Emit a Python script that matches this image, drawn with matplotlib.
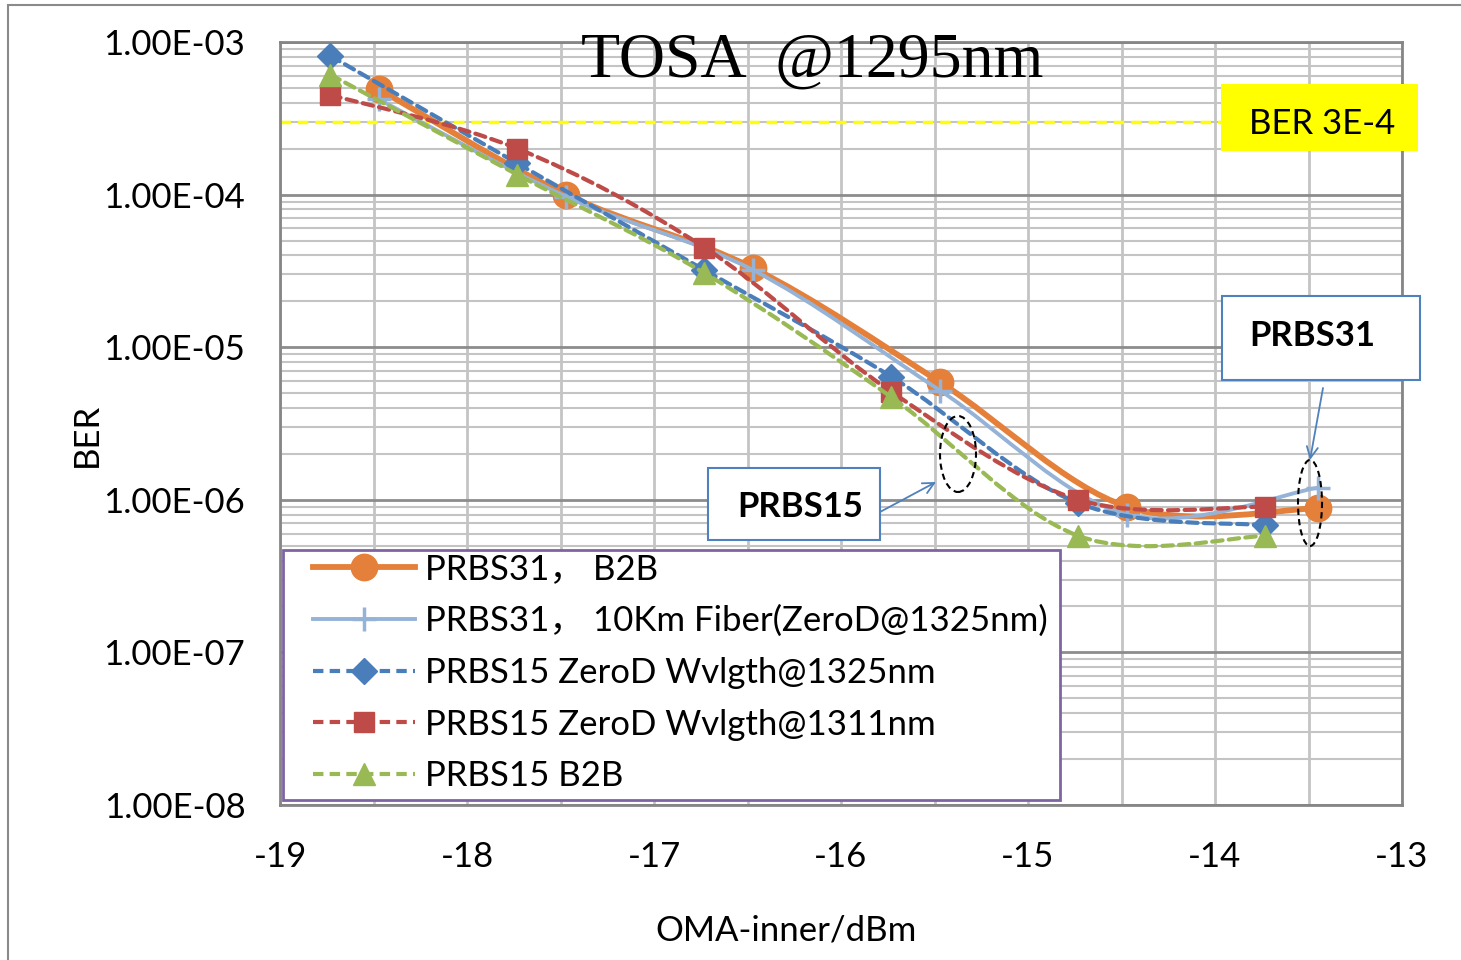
import matplotlib
matplotlib.use("Agg")
import matplotlib.pyplot as plt
import numpy as np
from matplotlib.path import Path
from matplotlib.patches import PathPatch, Rectangle, Ellipse
from matplotlib.lines import Line2D
from matplotlib.ticker import LogLocator, MultipleLocator, NullFormatter, FuncFormatter

plt.rcParams['axes.unicode_minus'] = False

# данные
x_prbs31 = [-18.47, -17.47, -16.47, -15.47, -14.47, -13.45]
ber_prbs31_b2b = [4.9e-4, 1.0e-4, 3.3e-5, 5.9e-6, 9.0e-7, 8.8e-7]
ber_prbs31_10km = [4.2e-4, 9.7e-5, 3.2e-5, 5.2e-6, 8.0e-7, 1.2e-6]

x_prbs15 = [-18.73, -17.73, -16.73, -15.73, -14.73, -13.73]
ber_prbs15_1325 = [8.1e-4, 1.6e-4, 3.2e-5, 6.4e-6, 9.5e-7, 6.8e-7]
ber_prbs15_1311 = [4.5e-4, 2.0e-4, 4.5e-5, 5.1e-6, 1.0e-6, 9.0e-7]
ber_prbs15_b2b = [6.1e-4, 1.35e-4, 3.06e-5, 4.7e-6, 5.8e-7, 5.8e-7]

ber_limit = 3e-4

labels = ["PRBS31， B2B",
          "PRBS31， 10Km Fiber(ZeroD@1325nm)",
          "PRBS15 ZeroD Wvlgth@1325nm",
          "PRBS15 ZeroD Wvlgth@1311nm",
          "PRBS15 B2B"]

FONT = ['Lato', 'Noto Sans CJK SC']
FS = 25
W, H = 1461, 960


def fx(x):
    return x / W


def fy(y):
    return 1 - y / H


def smooth_path(xs, ys):
    """Сглаженная линия как в Excel (Catmull-Rom -> Bezier) в лог. масштабе"""
    lx = np.array(xs, float)
    ly = np.log10(np.array(ys, float))
    n = len(lx)
    verts = [(lx[0], ly[0])]
    codes = [Path.MOVETO]
    for i in range(n - 1):
        a, b = max(i - 1, 0), min(i + 2, n - 1)
        c1 = (lx[i] + (lx[i + 1] - lx[a]) / 6, ly[i] + (ly[i + 1] - ly[a]) / 6)
        c2 = (lx[i + 1] - (lx[b] - lx[i]) / 6, ly[i + 1] - (ly[b] - ly[i]) / 6)
        verts += [c1, c2, (lx[i + 1], ly[i + 1])]
        codes += [Path.CURVE4] * 3
    verts = np.array(verts)
    verts[:, 1] = 10 ** verts[:, 1]
    return Path(verts, codes)


fig = plt.figure(figsize=(W / 100, H / 100), dpi=100)
ax = fig.add_axes([fx(280), fy(805), (1402 - 280) / W, (805 - 42) / H])

ax.set_yscale('log')
ax.set_xlim(-19, -13)
ax.set_ylim(1e-8, 1e-3)

ax.xaxis.set_major_locator(MultipleLocator(1))
ax.xaxis.set_minor_locator(MultipleLocator(0.5))
ax.yaxis.set_major_locator(LogLocator(base=10))
ax.yaxis.set_minor_locator(LogLocator(base=10, subs=range(2, 10)))
ax.yaxis.set_minor_formatter(NullFormatter())
ax.yaxis.set_major_formatter(FuncFormatter(lambda v, p: f"{v:.2E}"))
ax.xaxis.set_major_formatter(FuncFormatter(lambda v, p: f"{v:g}"))

ax.tick_params(which='both', length=0)
ax.tick_params(axis='y', pad=25, labelsize=FS)
ax.tick_params(axis='x', pad=26, labelsize=FS)
for t in ax.get_xticklabels() + ax.get_yticklabels():
    t.set_family(FONT)

ax.grid(True, which='major', axis='y', color='#8c8c8c', lw=2)
ax.grid(True, which='minor', axis='y', color='#c4c4c4', lw=1.5)
ax.grid(True, which='both', axis='x', color='#c4c4c4', lw=2)
ax.set_axisbelow(True)
for s in ax.spines.values():
    s.set_color('#868686')
    s.set_linewidth(2)

ax.axhline(ber_limit, color='#ffff00', ls=(0, (3, 2)), lw=2.5, zorder=1.5)

dash = (0, (2.5, 1.5))
series = [
    (x_prbs31, ber_prbs31_b2b, '#e4803a', '-', 4.2, 'o', 19, 1),
    (x_prbs31, ber_prbs31_10km, '#95b3d7', '-', 2.8, '+', 17, 2.5),
    (x_prbs15, ber_prbs15_1325, '#4a7ebb', dash, 3, 'D', 13, 1),
    (x_prbs15, ber_prbs15_1311, '#be4b48', dash, 3, 's', 15, 1),
    (x_prbs15, ber_prbs15_b2b, '#98b954', dash, 3, '^', 16, 1),
]

handles = []
for k, (xs, ys, col, ls, lw, mk, ms, mew) in enumerate(series):
    z = 3 + k
    ax.add_patch(PathPatch(smooth_path(xs, ys), fill=False, edgecolor=col,
                           lw=lw, ls=ls, zorder=z, capstyle='round'))
    ax.plot(xs, ys, ls='none', marker=mk, ms=ms, color=col, mew=mew, zorder=z + 0.5)
    handles.append(Line2D([], [], color=col, lw=lw, ls=ls, marker=mk, ms=ms, mew=mew))

# рамка легенды отдельно
fig.patches.append(Rectangle((fx(283), fy(800)), (1060 - 283) / W, (800 - 550) / H,
                             transform=fig.transFigure, facecolor='white',
                             edgecolor='#7f64a2', lw=2, zorder=10))
leg = fig.legend(handles, labels, loc='upper left',
                 bbox_to_anchor=(fx(313), fy(553)), bbox_transform=fig.transFigure,
                 prop={'family': FONT, 'size': FS}, frameon=False, borderaxespad=0,
                 handlelength=2.94, handletextpad=0.29, labelspacing=0.57,
                 borderpad=0, numpoints=1)
leg.set_zorder(20)

# заголовок и подписи осей
fig.text(fx(812), fy(62), "TOSA  @1295nm", family='Liberation Serif', size=46,
         ha='center', va='center')
fig.text(fx(87), fy(435), "BER", family=FONT, size=FS, rotation=90,
         ha='center', va='center')
fig.text(fx(786), fy(930), "OMA-inner/dBm", family=FONT, size=FS,
         ha='center', va='center')

# BER 3E-4
fig.patches.append(Rectangle((fx(1221), fy(151)), (1418 - 1221) / W, (151 - 84) / H,
                             transform=fig.transFigure, facecolor='#ffff00',
                             edgecolor='none', zorder=5))
fig.text(fx(1322), fy(124), "BER 3E-4", family=FONT, size=FS, ha='center',
         va='center', zorder=6)

# PRBS31 / PRBS15 подписи
for (x0, y0, x1, y1, tx, ty, txt) in [(1222, 296, 1420, 380, 1312, 336, "PRBS31"),
                                      (708, 468, 880, 540, 800, 507, "PRBS15")]:
    fig.patches.append(Rectangle((fx(x0), fy(y1)), (x1 - x0) / W, (y1 - y0) / H,
                                 transform=fig.transFigure, facecolor='white',
                                 edgecolor='#4f81bd', lw=1.5, zorder=5))
    fig.text(fx(tx), fy(ty), txt, family=FONT, size=FS, weight='bold',
             ha='center', va='center', zorder=6)

for (sx, sy, ex, ey) in [(880, 512, 936, 482), (1323, 388, 1310, 460)]:
    ax.annotate("", xy=(fx(ex), fy(ey)), xycoords='figure fraction',
                xytext=(fx(sx), fy(sy)), textcoords='figure fraction',
                arrowprops=dict(arrowstyle='->,head_length=0.8,head_width=0.4',
                                color='#4f81bd', lw=1.3, shrinkA=0, shrinkB=0),
                zorder=8)

for (cx, cy, w, h) in [(958, 454, 36, 76), (1310, 503, 24, 86)]:
    fig.patches.append(Ellipse((fx(cx), fy(cy)), w / W, h / H, transform=fig.transFigure,
                               fill=False, edgecolor='black', ls=(0, (3, 2)), lw=1.5,
                               zorder=7))

# рамка вокруг
fig.patches.append(Rectangle((fx(8), fy(990)), 1.2, (990 - 5) / H, transform=fig.transFigure,
                             fill=False, edgecolor='#8a8a8a', lw=1.5, zorder=1))

fig.savefig('out.png', dpi=100)
